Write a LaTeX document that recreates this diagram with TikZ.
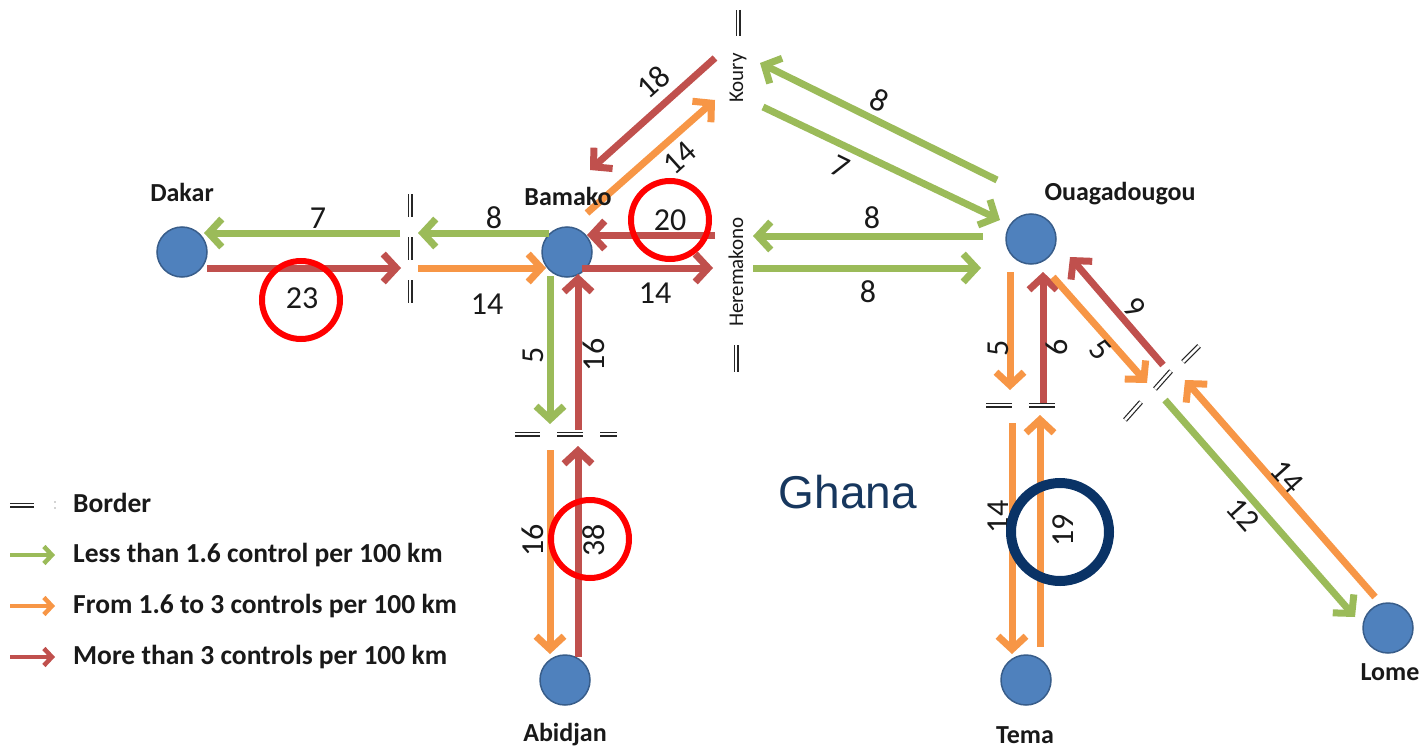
\documentclass[tikz,border=0pt]{standalone}
\usepackage{fontspec}
\setmainfont{Carlito}
\newfontfamily\arialfont{Liberation Sans}
\usetikzlibrary{arrows.meta}
\definecolor{cgreen}{HTML}{9BBB59}
\definecolor{corange}{HTML}{F79646}
\definecolor{cred}{HTML}{C0504D}
\definecolor{cblue}{HTML}{4F81BD}
\definecolor{cblueb}{HTML}{385D8A}
\definecolor{cnavy}{HTML}{0A3366}
\definecolor{cghana}{HTML}{17375E}
\definecolor{hired}{HTML}{FF0000}
\begin{document}
\begin{tikzpicture}[x=1pt,y=-1pt,
  city/.style={circle,fill=cblue,draw=cblueb,line width=1.5pt,minimum size=50pt,inner sep=0pt},
  cityname/.style={font=\fontsize{26}{28}\selectfont\bfseries,text=black!90},
  flow/.style={line width=7pt,-{Straight Barb[length=13pt,width=28pt]}},
  gflow/.style={flow,draw=cgreen},
  oflow/.style={flow,draw=corange},
  rflow/.style={flow,draw=cred},
  num/.style={font=\fontsize{32}{34}\selectfont,text=black!90,inner sep=0pt},
  brd/.style={draw=black!85,double=white,double distance=2.6pt,line width=1.2pt},
  hilite/.style={circle,draw=hired,line width=6pt,minimum size=78pt,inner sep=0pt},
  place/.style={font=\fontsize{21}{22}\selectfont,text=black!90,rotate=90,inner sep=0pt},
  legtext/.style={font=\fontsize{27.5}{29}\selectfont\bfseries,text=black!90,anchor=west,inner sep=0pt},
  legarrow/.style={line width=4.5pt,-{Straight Barb[length=8pt,width=17pt]}},
]
\useasboundingbox (0,0) rectangle (1427,752);

% ---------- cities ----------
\node[city] (dakar) at (182,252) {};
\node[city] (bamako) at (567,252) {};
\node[city] (ouaga) at (1031,239) {};
\node[city] (abidjan) at (565,680) {};
\node[city] (tema) at (1026,680) {};
\node[city] (lome) at (1388,628) {};

% ---------- borders ----------
\draw[brd] (410,194) -- (410,217);
\draw[brd] (410,237) -- (410,260);
\draw[brd] (410,280) -- (410,303);
\draw[brd] (738,10) -- (738,36);
\draw[brd] (736,345) -- (736,372);
\draw[brd] (515,434) -- (540,434);
\draw[brd] (557,434) -- (583,434);
\draw[brd] (600,434) -- (617,434);
\draw[brd] (986,405) -- (1012,405);
\draw[brd] (1029,405) -- (1055,405);
\draw[brd] (1183,362) -- (1199,346);
\draw[brd] (1155,389) -- (1171,371);
\draw[brd] (1125,420) -- (1141,402);

% ---------- endpoints ----------
\coordinate (a1s) at (400,233); \coordinate (a1e) at (204,233);
\coordinate (a2s) at (207,268); \coordinate (a2e) at (401,268);
\coordinate (a3s) at (549,233); \coordinate (a3e) at (418,233);
\coordinate (a4s) at (418,268); \coordinate (a4e) at (546,268);
\coordinate (a5s) at (715,235); \coordinate (a5e) at (587,235);
\coordinate (a6s) at (582,268); \coordinate (a6e) at (713,268);
\coordinate (a7s) at (550,276); \coordinate (a7e) at (550,424);
\coordinate (a8s) at (578,430); \coordinate (a8e) at (578,274);
\coordinate (a9s) at (550,450); \coordinate (a9e) at (550,654);
\coordinate (a10s) at (578,657); \coordinate (a10e) at (578,446);
\coordinate (a11s) at (587,213); \coordinate (a11e) at (715,100);
\coordinate (a12s) at (715,58); \coordinate (a12e) at (590,170);
\coordinate (a13s) at (997,180); \coordinate (a13e) at (760,63);
\coordinate (a14s) at (763,107); \coordinate (a14e) at (1000,220);
\coordinate (a15s) at (983,236); \coordinate (a15e) at (753,236);
\coordinate (a16s) at (753,268); \coordinate (a16e) at (981,268);
\coordinate (a17s) at (1010,272); \coordinate (a17e) at (1010,390);
\coordinate (a18s) at (1043,403); \coordinate (a18e) at (1043,272);
\coordinate (a19s) at (1012,423); \coordinate (a19e) at (1012,654);
\coordinate (a20s) at (1040,647); \coordinate (a20e) at (1040,415);
\coordinate (a21s) at (1053,277); \coordinate (a21e) at (1147,383);
\coordinate (a22s) at (1163,365); \coordinate (a22e) at (1070,257);
\coordinate (a23s) at (1165,400); \coordinate (a23e) at (1355,617);
\coordinate (a24s) at (1375,597); \coordinate (a24e) at (1185,380);

% ---------- flows ----------
\draw[gflow] (a1s) -- (a1e);
\draw[rflow] (a2s) -- (a2e);
\draw[gflow] (a3s) -- (a3e);
\draw[oflow] (a4s) -- (a4e);
\draw[rflow] (a5s) -- (a5e);
\draw[rflow] (a6s) -- (a6e);
\draw[gflow] (a7s) -- (a7e);
\draw[rflow] (a8s) -- (a8e);
\draw[oflow] (a9s) -- (a9e);
\draw[rflow] (a10s) -- (a10e);
\draw[oflow] (a11s) -- (a11e);
\draw[rflow] (a12s) -- (a12e);
\draw[gflow] (a13s) -- (a13e);
\draw[gflow] (a14s) -- (a14e);
\draw[gflow] (a15s) -- (a15e);
\draw[gflow] (a16s) -- (a16e);
\draw[oflow] (a17s) -- (a17e);
\draw[rflow] (a18s) -- (a18e);
\draw[oflow] (a19s) -- (a19e);
\draw[oflow] (a20s) -- (a20e);
\draw[oflow] (a21s) -- (a21e);
\draw[rflow] (a22s) -- (a22e);
\draw[gflow] (a23s) -- (a23e);
\draw[oflow] (a24s) -- (a24e);

% ---------- names ----------
\node[cityname] (ndakar) at (182,192) {Dakar};
\node[cityname] (nbamako) at (568,196) {Bamako};
\node[cityname] (nouaga) at (1120,194) {Ouagadougou};
\node[cityname] (nabidjan) at (565,735) {Abidjan};
\node[cityname] (ntema) at (1025,735) {Tema};
\node[cityname] (nlome) at (1390,672) {Lome};
\node[place] (koury) at (738,78) {Koury};
\node[place] (heremakono) at (736,272) {Heremakono};
\node[font=\arialfont\fontsize{46}{48}\selectfont,text=cghana] (ghana) at (848,492) {Ghana};

% ---------- numbers ----------
\node[num] (l1) at (318,218) {7};
\node[num] (l2) at (302,298) {23};
\node[num] (l3) at (494,218) {8};
\node[num] (l4) at (487,304) {14};
\node[num] (l5) at (670,220) {20};
\node[num] (l6) at (655,293) {14};
\node[num,rotate=90] (l7) at (533,355) {5};
\node[num,rotate=90] (l8) at (594,355) {16};
\node[num,rotate=90] (l9) at (533,540) {16};
\node[num,rotate=90] (l10) at (594,540) {38};
\node[num,rotate=42] (l11) at (680,158) {14};
\node[num,rotate=42] (l12) at (653,82) {18};
\node[num,rotate=-26] (l13) at (880,100) {8};
\node[num,rotate=-26] (l14) at (840,167) {7};
\node[num] (l15) at (872,218) {8};
\node[num] (l16) at (868,292) {8};
\node[num,rotate=90] (l17) at (998,348) {5};
\node[num,rotate=90] (l18) at (1057,347) {6};
\node[num,rotate=90] (l19) at (998,517) {14};
\node[num,rotate=90] (l20) at (1063,530) {19};
\node[num,rotate=-48] (l21) at (1100,350) {5};
\node[num,rotate=-48] (l22) at (1135,308) {9};
\node[num,rotate=-48] (l23) at (1243,515) {12};
\node[num,rotate=-48] (l24) at (1287,477) {14};

% ---------- highlight circles ----------
\node[hilite] (c23) at (301,300) {};
\node[hilite] (c20) at (670,220) {};
\node[hilite] (c38) at (590,539) {};
\node[circle,draw=cnavy,line width=10pt,minimum size=98pt,inner sep=0pt] (c19) at (1060,532) {};

% ---------- legend ----------
\draw[brd] (10,505) -- (34,505);
\fill[black!35] (55,502) circle (0.9pt) (55,508) circle (0.9pt);
\node[legtext] (lb) at (73,503) {Border};
\coordinate (lg1) at (10,555); \coordinate (lg2) at (55,555);
\coordinate (lo1) at (10,606); \coordinate (lo2) at (55,606);
\coordinate (lr1) at (10,657); \coordinate (lr2) at (55,657);
\draw[legarrow,draw=cgreen] (lg1) -- (lg2);
\draw[legarrow,draw=corange] (lo1) -- (lo2);
\draw[legarrow,draw=cred] (lr1) -- (lr2);
\node[legtext] (lgt) at (73,555) {Less than 1.6 control per 100 km};
\node[legtext] (lot) at (73,606) {From 1.6 to 3 controls per 100 km};
\node[legtext] (lrt) at (73,657) {More than 3 controls per 100 km};
\end{tikzpicture}
\end{document}
